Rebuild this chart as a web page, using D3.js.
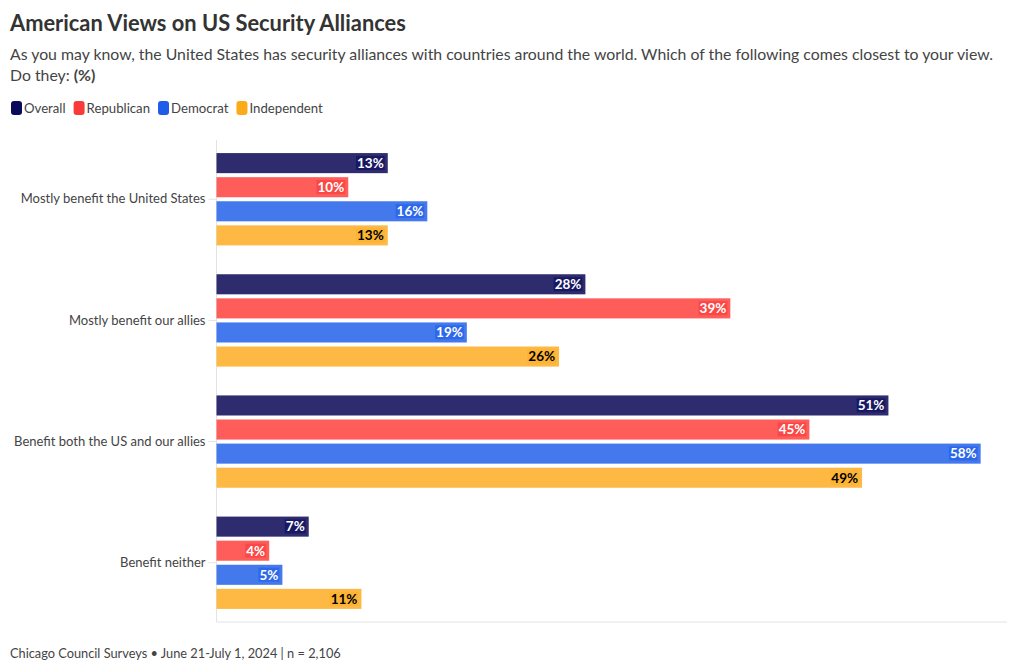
<!DOCTYPE html>
<html><head><meta charset="utf-8">
<script src="https://cdn.jsdelivr.net/npm/d3@7"></script>
<style>
body{margin:0;background:#fff;font-family:Lato,"Noto Sans",sans-serif;}
svg{display:block}
</style></head>
<body><svg id="c" width="1020" height="672"></svg>
<script>
const categories = ["Mostly benefit the United States","Mostly benefit our allies","Benefit both the US and our allies","Benefit neither"];
const seriesNames = ["Overall","Republican","Democrat","Independent"];
const overall = [13,28,51,7];
const republican = [10,39,45,4];
const democrat = [16,19,58,5];
const independent = [13,26,49,11];
const seriesValues = [overall, republican, democrat, independent];
const barColors = ["#2e2b6f","#ff5d5a","#4479ee","#fdb943"];
const legendColors = ["#0b0b5c","#f73b3a","#1f5de8","#fbab1a"];
const labelColors = ["#fff","#fff","#fff","#000"];

const svg = d3.select("#c");
const font = "Lato, 'Noto Sans', sans-serif";

function fitText(sel, target){
  let fs = +sel.attr("font-size");
  const w = sel.node().getComputedTextLength();
  sel.attr("font-size", fs*target/w);
  return fs*target/w;
}

const title = svg.append("text").attr("x",10).attr("y",31).attr("font-size",22).attr("font-weight",700)
  .attr("fill","#333").attr("font-family",font).text("American Views on US Security Alliances");
fitText(title, 396);
const sub = svg.append("text").attr("x",10).attr("y",60).attr("font-size",16.5).attr("fill","#444").attr("font-family",font)
  .text("As you may know, the United States has security alliances with countries around the world. Which of the following comes closest to your view.");
const subFs = fitText(sub, 984);
const l2 = svg.append("text").attr("x",10).attr("y",81).attr("font-size",subFs).attr("fill","#444").attr("font-family",font);
l2.append("tspan").text("Do they: ");
l2.append("tspan").attr("font-weight",700).text("(%)");

// legend
let lx = 11;
seriesNames.forEach((n,i)=>{
  svg.append("rect").attr("x",lx).attr("y",101).attr("width",11).attr("height",14).attr("rx",3).attr("fill",legendColors[i]);
  const t = svg.append("text").attr("x",lx+13).attr("y",113).attr("font-size",13.2).attr("fill","#444").attr("font-family",font).text(n);
  lx += 13 + t.node().getComputedTextLength() + 8;
});

const m = {left:216.5, right:1007, top:140, bottom:622};
const x = d3.scaleLinear().domain([0,60]).range([m.left,m.right]);
const y0 = d3.scaleBand().domain(categories).range([m.top,m.bottom]).paddingInner(0.238).paddingOuter(0.108);
const y1 = d3.scaleBand().domain(seriesNames).range([0,y0.bandwidth()]).paddingInner(1/6);

// axes lines
svg.append("line").attr("x1",m.left).attr("x2",m.left).attr("y1",m.top).attr("y2",m.bottom).attr("stroke","#e3e3e3");
svg.append("line").attr("x1",m.left).attr("x2",m.right).attr("y1",m.bottom).attr("y2",m.bottom).attr("stroke","#e3e3e3");

const yAxis = d3.axisLeft(y0).tickSize(8).tickPadding(3);
const ga = svg.append("g").attr("transform",`translate(${m.left},0)`).call(yAxis);
ga.select(".domain").remove();
ga.selectAll(".tick line").attr("stroke","#e3e3e3");
ga.selectAll(".tick text").attr("font-size",13).attr("fill","#444").attr("font-family",font);

categories.forEach((c,ci)=>{
  const g = svg.append("g").attr("transform",`translate(0,${y0(c)})`);
  seriesNames.forEach((s,si)=>{
    const v = seriesValues[si][ci];
    const yy = y1(s), h = y1.bandwidth();
    g.append("rect").attr("x",x(0)).attr("y",yy).attr("width",x(v)-x(0)).attr("height",h).attr("fill",barColors[si]);
    const t = g.append("text").attr("x",x(v)-4).attr("y",yy+h/2).attr("dy","0.36em")
      .attr("text-anchor","end").attr("font-size",13.5).attr("font-weight",700).attr("fill",labelColors[si])
      .attr("font-family",font).text(v+"%");
    const bb = t.node().getBBox();
    g.insert("rect", () => t.node()).attr("x",bb.x-1).attr("y",bb.y+1).attr("width",bb.width+2).attr("height",bb.height-2)
      .attr("fill",legendColors[si]).attr("opacity",si===3?0.35:0.6);
  });
});

const foot = svg.append("text").attr("x",10).attr("y",658).attr("font-size",13).attr("fill","#444").attr("font-family",font)
  .text("Chicago Council Surveys • June 21-July 1, 2024 | n = 2,106");
fitText(foot, 331);
</script></body></html>
